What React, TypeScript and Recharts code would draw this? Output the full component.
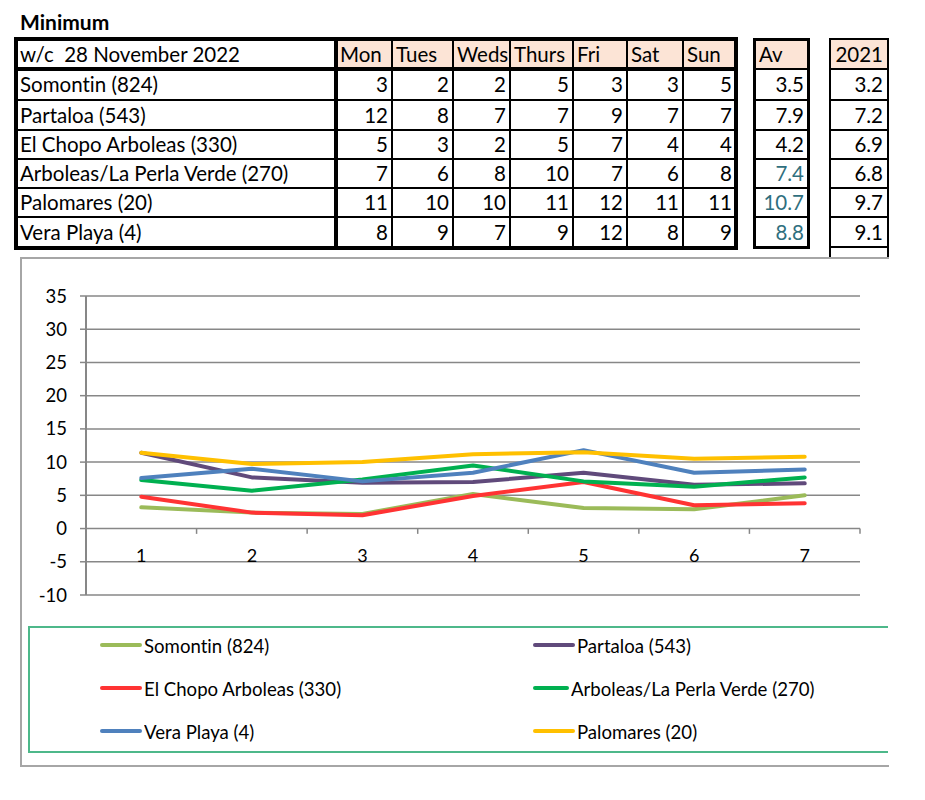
import React from 'react';
import { LineChart, Line, XAxis, YAxis, CartesianGrid, ReferenceLine, Legend } from 'recharts';

const title = 'Minimum';
const weekLabel = 'w/c  28 November 2022';
const days = ['Mon', 'Tues', 'Weds', 'Thurs', 'Fri', 'Sat', 'Sun'];
const stations = [
  'Somontin (824)',
  'Partaloa (543)',
  'El Chopo Arboleas (330)',
  'Arboleas/La Perla Verde (270)',
  'Palomares (20)',
  'Vera Playa (4)',
];
const tableValues = [
  [3, 2, 2, 5, 3, 3, 5],
  [12, 8, 7, 7, 9, 7, 7],
  [5, 3, 2, 5, 7, 4, 4],
  [7, 6, 8, 10, 7, 6, 8],
  [11, 10, 10, 11, 12, 11, 11],
  [8, 9, 7, 9, 12, 8, 9],
];
const avValues = ['3.5', '7.9', '4.2', '7.4', '10.7', '8.8'];
const avTeal = [false, false, false, true, true, true];
const prevYearLabel = '2021';
const prevYearValues = ['3.2', '7.2', '6.9', '6.8', '9.7', '9.1'];

// chart series
const xCategories = [1, 2, 3, 4, 5, 6, 7];
const somontinLine = [3.2, 2.4, 2.2, 5.2, 3.1, 2.9, 5.0];
const partaloaLine = [11.4, 7.7, 6.9, 7.0, 8.4, 6.6, 6.8];
const elChopoLine = [4.8, 2.4, 2.0, 4.9, 7.0, 3.5, 3.8];
const arboleasLine = [7.3, 5.7, 7.4, 9.5, 7.1, 6.3, 7.7];
const veraLine = [7.6, 9.0, 7.1, 8.4, 11.8, 8.4, 8.9];
const palomaresLine = [11.4, 9.7, 10.0, 11.2, 11.5, 10.5, 10.8];
const yTicks = [-10, -5, 0, 5, 10, 15, 20, 25, 30, 35];
const xBoundaries = [1.5, 2.5, 3.5, 4.5, 5.5, 6.5, 7.5];

const series = [
  { key: 's', name: 'Somontin (824)', color: '#9BBB59', values: somontinLine },
  { key: 'p', name: 'Partaloa (543)', color: '#604A7B', values: partaloaLine },
  { key: 'e', name: 'El Chopo Arboleas (330)', color: '#FF3333', values: elChopoLine },
  { key: 'a', name: 'Arboleas/La Perla Verde (270)', color: '#00B050', values: arboleasLine },
  { key: 'v', name: 'Vera Playa (4)', color: '#4F81BD', values: veraLine },
  { key: 'm', name: 'Palomares (20)', color: '#FFC000', values: palomaresLine },
];
const seriesOrder = series.map((s) => s.name);

const chartData = xCategories.map((x, i) => {
  const row: any = { x };
  series.forEach((s) => (row[s.key] = s.values[i]));
  return row;
});

const FONT = 'Lato, "Open Sans", sans-serif';
const PEACH = '#FCE4D6';
const GRID = '#878787';

const colX = [16, 336, 392, 453, 510, 573, 627, 683, 736];
const rowY = [39, 69, 100, 130, 159, 188, 217, 247];
const avX = [755, 808];
const prevX = [831, 887];

function Cell(props: { l: number; r: number; t: number; b: number; text: string; align: 'left' | 'right'; bg?: string; color?: string }) {
  const { l, r, t, b, text, align, bg, color } = props;
  return (
    <div
      style={{
        position: 'absolute',
        left: l,
        top: t,
        width: r - l,
        height: b - t,
        background: bg || 'transparent',
        display: 'flex',
        alignItems: 'center',
        justifyContent: align === 'left' ? 'flex-start' : 'flex-end',
        padding: '0 4px',
        boxSizing: 'border-box',
        fontFamily: FONT,
        fontSize: 20.5,
        fontVariantLigatures: 'none',
        color: color || '#000',
        whiteSpace: 'pre',
        lineHeight: 1,
      }}
    >
      {text}
    </div>
  );
}

function HLine({ x1, x2, y, w, color }: { x1: number; x2: number; y: number; w: number; color?: string }) {
  return <div style={{ position: 'absolute', left: x1, top: y - w / 2, width: x2 - x1, height: w, background: color || '#000' }} />;
}
function VLine({ y1, y2, x, w, color }: { y1: number; y2: number; x: number; w: number; color?: string }) {
  return <div style={{ position: 'absolute', left: x - w / 2, top: y1, width: w, height: y2 - y1, background: color || '#000' }} />;
}

function LegendContent(props: any) {
  const payload = [...(props.payload || [])].sort(
    (a: any, b: any) => seriesOrder.indexOf(a.value) - seriesOrder.indexOf(b.value)
  );
  return (
    <div
      style={{
        width: '100%',
        height: '100%',
        boxSizing: 'border-box',
        borderTop: '2px solid #4DB88A',
        borderBottom: '2px solid #4DB88A',
        borderLeft: '2px solid #4DB88A',
        display: 'grid',
        gridTemplateColumns: '433px 300px',
        gridAutoRows: '43px',
        paddingLeft: 70,
        paddingBottom: 4,
        alignContent: 'center',
      }}
    >
      {payload.map((p: any) => (
        <div key={p.value} style={{ display: 'flex', alignItems: 'center', fontFamily: FONT, fontSize: 20, color: '#000', fontVariantLigatures: 'none' }}>
          <span style={{ display: 'inline-block', width: 42, height: 4, borderRadius: 2, background: p.color, marginRight: 2 }} />
          <span style={{ transform: 'scaleX(0.93)', transformOrigin: 'left center', whiteSpace: 'nowrap' }}>{p.value}</span>
        </div>
      ))}
    </div>
  );
}

function XTick(props: any) {
  const { x, y, payload } = props;
  return (
    <text x={x} y={y} dy={-33} textAnchor="middle" fontFamily={FONT} fontSize={18} fill="#000">
      {payload.value}
    </text>
  );
}

export default function App() {
  return (
    <div style={{ position: 'relative', width: 925, height: 800, background: '#fff', overflow: 'hidden' }}>
      <style>{`body{margin:0;}`}</style>
      <div style={{ position: 'absolute', left: 20, top: 9, fontFamily: FONT, fontWeight: 700, fontSize: 21, color: '#000' }}>{title}</div>

      {/* main table */}
      <Cell l={colX[0]} r={colX[1]} t={rowY[0]} b={rowY[1]} text={weekLabel} align="left" />
      {days.map((d, i) => (
        <Cell key={d} l={colX[i + 1]} r={colX[i + 2]} t={rowY[0]} b={rowY[1]} text={d} align="left" bg={PEACH} />
      ))}
      {stations.map((s, r) => (
        <React.Fragment key={s}>
          <Cell l={colX[0]} r={colX[1]} t={rowY[r + 1]} b={rowY[r + 2]} text={s} align="left" />
          {tableValues[r].map((v, c) => (
            <Cell key={c} l={colX[c + 1]} r={colX[c + 2]} t={rowY[r + 1]} b={rowY[r + 2]} text={String(v)} align="right" />
          ))}
          <Cell l={avX[0]} r={avX[1]} t={rowY[r + 1]} b={rowY[r + 2]} text={avValues[r]} align="right" color={avTeal[r] ? '#2F6F7E' : '#000'} />
          <Cell l={prevX[0]} r={prevX[1]} t={rowY[r + 1]} b={rowY[r + 2]} text={prevYearValues[r]} align="right" />
        </React.Fragment>
      ))}
      <Cell l={avX[0]} r={avX[1]} t={rowY[0]} b={rowY[1]} text="Av" align="left" bg={PEACH} />
      <Cell l={prevX[0]} r={prevX[1]} t={rowY[0]} b={rowY[1]} text={prevYearLabel} align="right" bg={PEACH} />

      {/* main table lines */}
      {rowY.slice(2, 7).map((y) => (
        <HLine key={y} x1={colX[0]} x2={colX[8]} y={y} w={2} />
      ))}
      <HLine x1={colX[0]} x2={colX[8]} y={rowY[1]} w={4} />
      {colX.slice(2, 8).map((x) => (
        <VLine key={x} y1={rowY[0]} y2={rowY[7]} x={x} w={2} />
      ))}
      <VLine y1={rowY[0]} y2={rowY[7]} x={colX[1]} w={3.5} />
      <div style={{ position: 'absolute', left: 14, top: 37, width: 724, height: 213, border: '4px solid #000', boxSizing: 'border-box' }} />

      {/* Av box lines */}
      {rowY.slice(1, 7).map((y) => (
        <HLine key={'a' + y} x1={avX[0]} x2={avX[1]} y={y} w={2} />
      ))}
      <div style={{ position: 'absolute', left: 753, top: 38, width: 57, height: 211, border: '3px solid #000', boxSizing: 'border-box' }} />

      {/* 2021 box lines */}
      {rowY.slice(1, 8).map((y) => (
        <HLine key={'p' + y} x1={prevX[0]} x2={prevX[1]} y={y} w={2} />
      ))}
      <div style={{ position: 'absolute', left: 829, top: 38, width: 60, height: 222, border: '2.5px solid #000', borderBottom: 'none', boxSizing: 'border-box' }} />

      {/* chart frame */}
      <div
        style={{
          position: 'absolute',
          left: 20,
          top: 257,
          width: 869,
          height: 510,
          borderLeft: '2px solid #A6A6A6',
          borderTop: '2px solid #A6A6A6',
          borderBottom: '2px solid #A6A6A6',
          boxSizing: 'border-box',
          background: '#fff',
        }}
      />
      <div style={{ position: 'absolute', left: 21, top: 258 }}>
        <LineChart width={867} height={507} data={chartData} margin={{ top: 38, right: 28, left: 0, bottom: 140 }}>
          <CartesianGrid horizontal vertical={false} stroke={GRID} strokeWidth={1.5} />
          <XAxis
            dataKey="x"
            type="number"
            domain={[0.5, 7.5]}
            ticks={xCategories}
            axisLine={false}
            tickLine={false}
            tickSize={0}
            tickMargin={0}
            height={30}
            tick={<XTick />}
            interval={0}
          />
          <YAxis
            type="number"
            domain={[-10, 35]}
            ticks={yTicks}
            width={65}
            interval={0}
            axisLine={{ stroke: GRID, strokeWidth: 2 }}
            tickLine={{ stroke: GRID, strokeWidth: 1.5 }}
            tickSize={6}
            tickMargin={13}
            tick={{ fontFamily: FONT, fontSize: 18.5, fill: '#000' }}
          />
          {xBoundaries.map((b) => (
            <ReferenceLine
              key={b}
              segment={[
                { x: b, y: 0 },
                { x: b, y: -0.8 },
              ]}
              stroke={GRID}
              strokeWidth={1.5}
              ifOverflow="visible"
            />
          ))}
          {series.map((s) => (
            <Line
              key={s.key}
              dataKey={s.key}
              name={s.name}
              stroke={s.color}
              strokeWidth={4}
              strokeLinecap="round"
              strokeLinejoin="round"
              dot={false}
              activeDot={false}
              isAnimationActive={false}
            />
          ))}
          <Legend
            layout="horizontal"
            verticalAlign="middle"
            align="center"
            wrapperStyle={{ position: 'absolute', left: 7, top: 368, width: 860, height: 127 }}
            content={<LegendContent />}
          />
        </LineChart>
      </div>
    </div>
  );
}
